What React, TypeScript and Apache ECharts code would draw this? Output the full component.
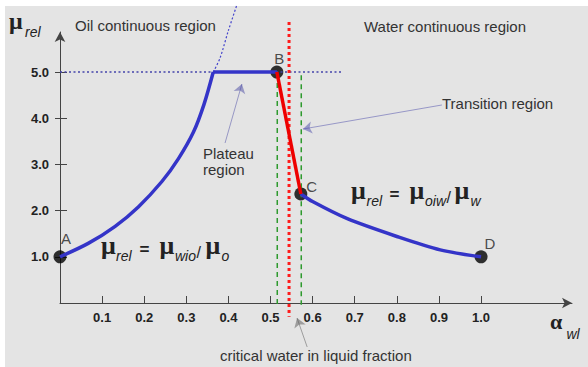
import React, { useEffect, useRef } from "react";
import * as echarts from "echarts";

// ---- data ----
const xTicks = [0.1, 0.2, 0.3, 0.4, 0.5, 0.6, 0.7, 0.8, 0.9, 1.0];
const yTicks = [1, 2, 3, 4, 5];

const oilCurve = [
  [0, 1.0], [0.067, 1.29], [0.131, 1.66], [0.186, 2.08], [0.242, 2.63],
  [0.281, 3.12], [0.317, 3.7], [0.342, 4.3], [0.364, 5.0],
];
const plateau = [[0.364, 5.0], [0.515, 5.0]];
const oilExtension = [[0.364, 5.0], [0.38, 5.3], [0.4, 5.9], [0.42, 6.45]];
const plateauGuide = [[0, 5.0], [0.672, 5.0]];
const transition = [[0.515, 5.0], [0.572, 2.36]];
const waterCurve = [
  [0.572, 2.36], [0.601, 2.19], [0.681, 1.83], [0.8, 1.44], [0.903, 1.15], [1.0, 1.0],
];
const criticalLine = [[0.544, 6.08], [0.544, -0.3]];
const boundLeft = [[0.516, 4.76], [0.516, -0.04]];
const boundRight = [[0.573, 4.93], [0.573, -0.04]];
const pointNames = ["A", "B", "C", "D"];
const pointValues = [[0, 1.0], [0.515, 5.0], [0.572, 2.36], [1.0, 1.0]];

// arrows (data coordinates: [from, to])
const arrowTransition = [[0.907, 4.286], [0.577, 3.766]];
const arrowPlateau = [[0.392, 3.463], [0.432, 4.74]];
const arrowCritical = [[0.587, -0.952], [0.563, -0.325]];

// ---- layout / style ----
const X_MAX = 1.216;
const Y_MAX = 5.866;
const SANS = '"Liberation Sans", Arial, sans-serif';
const SERIF = '"Liberation Serif", "Times New Roman", serif';
const labelPos = [[12.5, -12], [8.8, -7.3], [17.3, -1.3], [15.3, -7.2]];

const MU = `bold 26px ${SERIF}`;
const SUB = `italic 14px ${SANS}`;
const EQ = `bold 17px ${SANS}`;
const SL = `16px ${SANS}`;
const REG = `15px ${SANS}`;

function txt(text: string, x: number, y: number, font: string, fill = "#333") {
  return {
    type: "text",
    x,
    y,
    silent: true,
    style: {
      text,
      font,
      fill,
      textAlign: "left",
      textVerticalAlign: "middle",
      align: "left",
      verticalAlign: "middle",
    },
  };
}

export default function App() {
  const ref = useRef<HTMLDivElement>(null);

  useEffect(() => {
    document.body.style.margin = "0";
    const chart = echarts.init(ref.current!, null, { renderer: "svg" });

    const lineS = (data: number[][], color: string, width: number, type: any, extra: any = {}) => ({
      type: "line",
      data,
      showSymbol: false,
      symbol: "none",
      silent: true,
      clip: false,
      lineStyle: { color, width, type },
      ...extra,
    });

    const graphics: any[] = [
      txt("Oil continuous region", 75, 25.5, REG),
      txt("Water continuous region", 364, 26.5, REG),
      txt("Transition region", 442, 103.8, REG),
      txt("Plateau", 203, 153.3, REG),
      txt("region", 203, 169.8, REG),
      txt("critical water in liquid fraction", 220, 355.5, REG),
      // axis titles
      txt("μ", 9, 21, `bold 24px ${SERIF}`, "#222"),
      txt("rel", 25, 31.8, SUB, "#222"),
      txt("α", 550, 321.6, `bold 22px ${SERIF}`, "#222"),
      txt("wl", 566.5, 334, SUB, "#222"),
      // equation 1
      txt("μ", 101, 245, MU, "#222"),
      txt("rel", 116, 255.5, SUB, "#222"),
      txt("=", 139.5, 249, EQ, "#222"),
      txt("μ", 159.5, 245, MU, "#222"),
      txt("wio", 175, 255.5, SUB, "#222"),
      txt("/", 196.5, 252, SL, "#222"),
      txt("μ", 205.5, 245, MU, "#222"),
      txt("o", 221.5, 255.5, SUB, "#222"),
      // equation 2
      txt("μ", 351, 190, MU, "#222"),
      txt("rel", 366.5, 200.5, SUB, "#222"),
      txt("=", 389.5, 194, EQ, "#222"),
      txt("μ", 409.5, 190, MU, "#222"),
      txt("oiw", 425, 200.5, SUB, "#222"),
      txt("/", 446.5, 197, SL, "#222"),
      txt("μ", 454.5, 190, MU, "#222"),
      txt("w", 470.5, 200.5, SUB, "#222"),
    ];

    const axisCommon = { type: "value", splitLine: { show: false } };

    chart.setOption({
      animation: false,
      backgroundColor: "transparent",
      grid: { left: 60, right: 16, top: 32, bottom: 64, containLabel: false },
      xAxis: [
        {
          ...axisCommon,
          min: 0,
          max: X_MAX,
          axisLine: {
            show: true,
            symbol: ["none", "arrow"],
            symbolSize: [8, 10],
            lineStyle: { color: "#444", width: 1 },
          },
          axisTick: { show: true, inside: true, length: 7, customValues: xTicks, lineStyle: { color: "#444" } },
          axisLabel: {
            customValues: xTicks,
            formatter: (v: number) => v.toFixed(1),
            fontWeight: "bold",
            fontSize: 13,
            fontFamily: SANS,
            color: "#222",
            margin: 8,
          },
        },
      ],
      yAxis: [
        {
          ...axisCommon,
          position: "left",
          min: 0,
          max: Y_MAX,
          axisLine: {
            show: true,
            symbol: ["none", "arrow"],
            symbolSize: [8, 10],
            lineStyle: { color: "#444", width: 1 },
          },
          axisTick: { show: true, inside: true, length: 7, customValues: yTicks, lineStyle: { color: "#444" } },
          axisLabel: {
            customValues: yTicks,
            formatter: (v: number) => v.toFixed(1),
            fontWeight: "bold",
            fontSize: 13,
            fontFamily: SANS,
            color: "#222",
            margin: 11,
          },
        },
        {
          ...axisCommon,
          position: "left",
          min: 0,
          max: Y_MAX,
          axisLine: { show: false },
          axisTick: { show: true, inside: false, length: 5, customValues: yTicks, lineStyle: { color: "#444" } },
          axisLabel: { show: false },
        },
      ],
      graphic: graphics,
      series: [
        lineS(plateauGuide, "#4444aa", 1.5, [2, 2.5]),
        lineS(oilExtension, "#4444cc", 1.2, [2, 2], { smooth: 0.3 }),
        lineS(boundLeft, "#2e9a2e", 1.5, [5, 4]),
        lineS(boundRight, "#2e9a2e", 1.5, [5, 4]),
        lineS(criticalLine, "#ff1a1a", 3, [3, 3]),
        lineS(oilCurve, "#3434c8", 3.5, "solid", { smooth: 0.3 }),
        lineS(plateau, "#3434c8", 3.5, "solid"),
        lineS(waterCurve, "#3434c8", 3.5, "solid", { smooth: 0.3 }),
        lineS(transition, "#ee0000", 3.5, "solid"),
        {
          type: "lines",
          coordinateSystem: "cartesian2d",
          clip: false,
          silent: true,
          symbol: ["none", "arrow"],
          symbolSize: [6, 9],
          data: [
            { coords: arrowTransition, lineStyle: { color: "#4a4aaa", width: 1 } },
            { coords: arrowPlateau, lineStyle: { color: "#4a4aa4", width: 1 } },
            { coords: arrowCritical, lineStyle: { color: "#555", width: 1 } },
          ],
        },
        {
          type: "scatter",
          silent: true,
          symbol: "circle",
          symbolSize: 13,
          itemStyle: { color: "#000" },
          data: pointValues.map((v, i) => ({
            name: pointNames[i],
            value: v,
            label: {
              show: true,
              formatter: "{b}",
              position: labelPos[i],
              align: "center",
              verticalAlign: "middle",
              fontSize: 15,
              fontFamily: SANS,
              color: "#222",
            },
          })),
        },
      ],
    });

    return () => chart.dispose();
  }, []);

  return (
    <div
      style={{
        width: 588,
        height: 367,
        background: "linear-gradient(#e4e4e4,#e4e4e4) 5px 6px / 583px 361px no-repeat, #ffffff",
      }}
    >
      <div ref={ref} style={{ width: 588, height: 367 }} />
    </div>
  );
}
